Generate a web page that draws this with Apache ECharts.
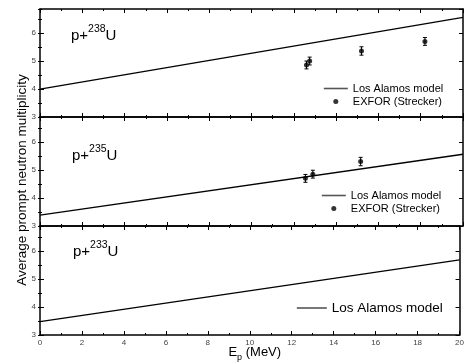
<!DOCTYPE html>
<html><head><meta charset="utf-8">
<script src="https://cdn.jsdelivr.net/npm/echarts@6/dist/echarts.min.js"></script>
<style>html,body{margin:0;padding:0;background:#fff}#c{width:467px;height:363px}</style>
</head><body><div id="c"></div>
<script>
// ---- data ----
const targets = ['238', '235', '233'];
const modelEnergy = [0, 20];
const model238 = [4.00, 6.56];
const model235 = [3.39, 5.56];
const model233 = [3.475, 5.68];
const exfor238E = [12.6, 12.75, 15.2, 18.2];
const exfor238V = [4.86, 5.00, 5.36, 5.70];
const exfor238Err = [0.14, 0.14, 0.15, 0.14];
const exfor235E = [12.55, 12.9, 15.16];
const exfor235V = [4.70, 4.85, 5.30];
const exfor235Err = [0.14, 0.14, 0.15];
const xTicks = [0, 2, 4, 6, 8, 10, 12, 14, 16, 18, 20];
const yTicks = [3, 4, 5, 6];

const FONT = "'Liberation Sans', Arial, sans-serif";
const models = [model238, model235, model233];
const exforE = [exfor238E, exfor235E, null];
const exforV = [exfor238V, exfor235V, null];
const exforErr = [exfor238Err, exfor235Err, null];

const grids = [
  { top: 9, height: 108, ymax: 6.86 },
  { top: 117, height: 109, ymax: 6.89 },
  { top: 226, height: 109, ymax: 6.89 }
];
const axisLine = { show: true, onZero: false, lineStyle: { color: '#000', width: 1.5 } };

const option = {
  animation: false,
  backgroundColor: '#fff',
  textStyle: { fontFamily: FONT },
  grid: grids.map(g => ({ left: 40, right: 4, top: g.top, height: g.height })),
  xAxis: [],
  yAxis: [],
  series: [],
  title: [],
  legend: []
};

const xMin = xTicks[0], xMax = xTicks[xTicks.length - 1], xInt = xTicks[1] - xTicks[0];
const yMin = yTicks[0], yInt = yTicks[1] - yTicks[0];

grids.forEach((g, i) => {
  ['bottom', 'top'].forEach(pos => {
    option.xAxis.push({
      type: 'value', gridIndex: i, position: pos, min: xMin, max: xMax, interval: xInt,
      axisLine: axisLine,
      axisTick: { show: true, inside: true, length: 4, lineStyle: { color: '#000', width: 1 } },
      minorTick: { show: true, splitNumber: 2, length: 2, lineStyle: { color: '#000', width: 1 } },
      splitLine: { show: false },
      axisLabel: { show: pos === 'bottom' && i === 2, fontSize: 8, color: '#444', margin: 4, fontFamily: FONT },
      name: (pos === 'bottom' && i === 2) ? '{a|E}{b|p}{a| (MeV)}' : '',
      nameLocation: 'middle', nameGap: 11, nameMoveOverlap: false,
      nameTextStyle: {
        padding: [0, 0, 0, 10],
        rich: {
          a: { fontSize: 13, lineHeight: 16, verticalAlign: 'top', color: '#000', fontFamily: FONT },
          b: { fontSize: 9, lineHeight: 8, verticalAlign: 'bottom', color: '#000', fontFamily: FONT }
        }
      }
    });
  });
  ['left', 'right'].forEach(pos => {
    option.yAxis.push({
      type: 'value', gridIndex: i, position: pos, min: yMin, max: g.ymax, interval: yInt,
      axisLine: axisLine,
      axisTick: { show: true, inside: true, length: 4, lineStyle: { color: '#000', width: 1 } },
      splitLine: { show: false },
      axisLabel: {
        show: pos === 'left', fontSize: 8, color: '#444', margin: 4, fontFamily: FONT,
        showMaxLabel: false,
        formatter: v => (yTicks.indexOf(v) >= 0 ? String(v) : '')
      },
      name: (pos === 'left' && i === 1) ? 'Average prompt neutron multiplicity' : '',
      nameLocation: 'middle', nameGap: 10.5, nameRotate: 90, nameMoveOverlap: false,
      nameTextStyle: { fontSize: 13.5, color: '#000', fontFamily: FONT, padding: [0, 17, 0, 0] }
    });
    option.yAxis.push({
      type: 'value', gridIndex: i, position: pos, min: yMin, max: g.ymax, interval: yInt / 2,
      axisLine: { show: false },
      axisTick: { show: true, inside: true, length: 2, lineStyle: { color: '#000', width: 1 } },
      splitLine: { show: false },
      axisLabel: { show: false }
    });
  });

  option.series.push({
    name: 'Los Alamos model', type: 'line', xAxisIndex: 2 * i, yAxisIndex: 4 * i,
    symbol: 'none', lineStyle: { color: '#000', width: 1.3 }, itemStyle: { color: '#000' },
    data: modelEnergy.map((e, k) => [e, models[i][k]])
  });
  if (exforE[i]) {
    option.series.push({
      name: 'errbar' + i, type: 'custom', xAxisIndex: 2 * i, yAxisIndex: 4 * i,
      encode: { x: 0, y: 1 },
      data: exforE[i].map((e, k) => [e, exforV[i][k], exforErr[i][k]]),
      renderItem: (params, api) => {
        const x = api.value(0), y = api.value(1), er = api.value(2);
        const t = api.coord([x, y + er]), b = api.coord([x, y - er]);
        const w = 2;
        const st = { stroke: '#000', lineWidth: 1 };
        return {
          type: 'group', children: [
            { type: 'line', shape: { x1: t[0], y1: t[1], x2: b[0], y2: b[1] }, style: st },
            { type: 'line', shape: { x1: t[0] - w, y1: t[1], x2: t[0] + w, y2: t[1] }, style: st },
            { type: 'line', shape: { x1: b[0] - w, y1: b[1], x2: b[0] + w, y2: b[1] }, style: st }
          ]
        };
      }
    });
    option.series.push({
      name: 'EXFOR (Strecker)', type: 'scatter', xAxisIndex: 2 * i, yAxisIndex: 4 * i,
      symbol: 'circle', symbolSize: 5, itemStyle: { color: '#000' },
      data: exforE[i].map((e, k) => [e, exforV[i][k]])
    });
  }
});

const labelPos = [{ left: 71, top: 24 }, { left: 72, top: 144 }, { left: 73, top: 240 }];
targets.forEach((t, i) => {
  option.title.push({
    text: '{a|p+}{s|' + t + '}{a|U}', left: labelPos[i].left, top: labelPos[i].top, padding: 0,
    textStyle: {
      fontWeight: 'normal',
      rich: {
        a: { fontSize: 15, lineHeight: 24, color: '#000', fontWeight: 'normal', fontFamily: FONT },
        s: { fontSize: 10.5, lineHeight: 10, verticalAlign: 'top', color: '#000', fontWeight: 'normal', fontFamily: FONT }
      }
    }
  });
});

const legendBase = {
  orient: 'vertical', padding: 0, itemGap: 2, itemHeight: 5, selectedMode: false,
  lineStyle: { color: '#555', width: 1.6 },
  textStyle: { color: '#000', fontSize: 11, fontFamily: FONT }
};
option.legend.push(Object.assign({}, legendBase, {
  left: 323, top: 83, itemWidth: 24,
  data: [{ name: 'Los Alamos model', itemStyle: { opacity: 0 } }, { name: 'EXFOR (Strecker)' }]
}));
option.legend.push(Object.assign({}, legendBase, {
  left: 321, top: 190, itemWidth: 24,
  data: [{ name: 'Los Alamos model', itemStyle: { opacity: 0 } }, { name: 'EXFOR (Strecker)' }]
}));
option.legend.push(Object.assign({}, legendBase, {
  left: 296, top: 301, itemWidth: 30,
  textStyle: { color: '#000', fontSize: 13.5, fontFamily: FONT },
  data: [{ name: 'Los Alamos model', itemStyle: { opacity: 0 } }]
}));

const chart = echarts.init(document.getElementById('c'), null, { renderer: 'canvas' });
chart.setOption(option);
</script>
</body></html>
